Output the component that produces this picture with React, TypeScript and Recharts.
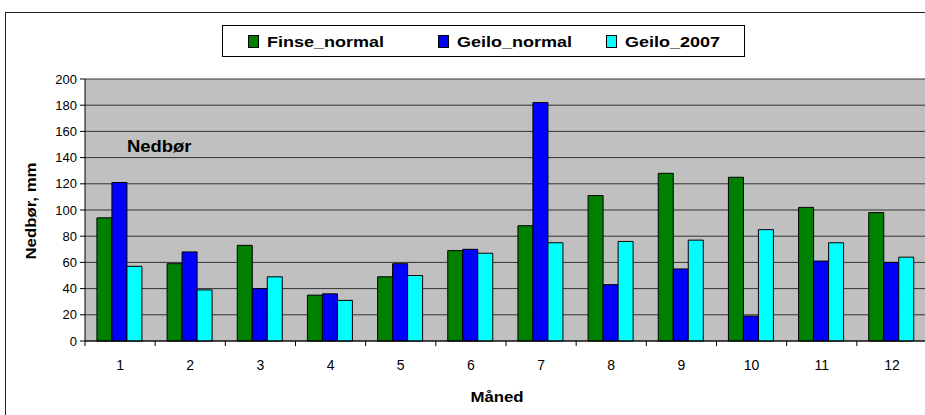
import { BarChart, Bar, XAxis, YAxis, CartesianGrid } from "recharts";

const months = ["1", "2", "3", "4", "5", "6", "7", "8", "9", "10", "11", "12"];
const finseNormal = [94, 59, 73, 35, 49, 69, 88, 111, 128, 125, 102, 98];
const geiloNormal = [121, 68, 40, 36, 59, 70, 182, 43, 55, 19, 61, 60];
const geilo2007 = [57, 39, 49, 31, 50, 67, 75, 76, 77, 85, 75, 64];
const yTicks = [0, 20, 40, 60, 80, 100, 120, 140, 160, 180, 200];

const series = [
  { key: "Finse_normal", color: "#008000" },
  { key: "Geilo_normal", color: "#0000FF" },
  { key: "Geilo_2007", color: "#00FFFF" },
];

const data = months.map((m, i) => ({
  month: m,
  Finse_normal: finseNormal[i],
  Geilo_normal: geiloNormal[i],
  Geilo_2007: geilo2007[i],
}));

const FONT = "'Liberation Sans', Arial, sans-serif";

// category labels, with Excel-style tick marks on the category edges
function MonthTick(props: any) {
  const { x, y, payload, index } = props;
  const half = payload && payload.offset ? payload.offset : 35;
  return (
    <g>
      <line x1={x - half} y1={y} x2={x - half} y2={y + 5} stroke="#000" />
      {index === months.length - 1 && (
        <line x1={x + half} y1={y} x2={x + half} y2={y + 5} stroke="#000" />
      )}
      <text x={x} y={y + 29} textAnchor="middle" fontSize={14} fill="#000" fontFamily={FONT}>
        {payload.value}
      </text>
    </g>
  );
}

const boldStretch = (size: number) => ({
  fontWeight: "bold" as const,
  fontSize: size,
  whiteSpace: "nowrap" as const,
  color: "#000",
});

export default function App() {
  return (
    <div
      style={{
        position: "absolute",
        left: 0,
        top: 0,
        width: 925,
        height: 415,
        overflow: "hidden",
        background: "#fff",
        fontFamily: FONT,
      }}
    >
      <div
        style={{
          position: "absolute",
          left: 5,
          top: 12,
          width: 940,
          height: 420,
          border: "1.5px solid #222",
        }}
      />
      <div style={{ position: "absolute", left: 0, top: 0 }}>
        <BarChart
          width={935}
          height={415}
          data={data}
          margin={{ top: 79, right: 8, bottom: 44, left: 20 }}
          barCategoryGap="17%"
          barGap={0}
        >
          <CartesianGrid vertical={false} stroke="#333" fill="#C0C0C0" />
          <XAxis
            dataKey="month"
            height={30}
            axisLine={{ stroke: "#000" }}
            tickLine={false}
            tickSize={0}
            tickMargin={0}
            interval={0}
            tick={<MonthTick />}
          />
          <YAxis
            width={65}
            domain={[0, 200]}
            ticks={yTicks}
            interval={0}
            axisLine={{ stroke: "#000" }}
            tickLine={{ stroke: "#000" }}
            tickSize={5}
            tickMargin={3}
            tick={{ fontSize: 13, fill: "#000", fontFamily: FONT }}
          />
          {series.map((s) => (
            <Bar
              key={s.key}
              dataKey={s.key}
              fill={s.color}
              stroke="#000"
              strokeWidth={1}
              isAnimationActive={false}
            />
          ))}
        </BarChart>
      </div>
      <div
        style={{
          ...boldStretch(14),
          position: "absolute",
          left: 31,
          top: 211,
          transform: "translate(-50%, -50%) rotate(-90deg) scaleX(1.2)",
        }}
      >
        Nedbør, mm
      </div>
      <div
        style={{
          ...boldStretch(14),
          position: "absolute",
          left: 497,
          top: 397,
          transform: "translate(-50%, -50%) scaleX(1.2)",
        }}
      >
        Måned
      </div>
      <div
        style={{
          ...boldStretch(16),
          position: "absolute",
          left: 127,
          top: 138,
          transform: "scaleX(1.15)",
          transformOrigin: "left center",
        }}
      >
        Nedbør
      </div>
      <div
        style={{
          position: "absolute",
          left: 222,
          top: 25,
          width: 523,
          height: 32,
          border: "1px solid #000",
          background: "#fff",
          display: "flex",
          alignItems: "center",
          paddingLeft: 25,
          boxSizing: "border-box",
        }}
      >
        {series.map((s, i) => (
          <div
            key={s.key}
            style={{
              display: "flex",
              alignItems: "center",
              flexShrink: 0,
              width: i === 0 ? 190 : i === 1 ? 168 : 130,
            }}
          >
            <span
              style={{
                display: "inline-block",
                width: 9,
                height: 11,
                background: s.color,
                border: "1px solid #000",
                marginRight: 8,
              }}
            />
            <span
              style={{
                ...boldStretch(15),
                display: "inline-block",
                transform: "scaleX(1.2)",
                transformOrigin: "left center",
              }}
            >
              {s.key}
            </span>
          </div>
        ))}
      </div>
    </div>
  );
}
